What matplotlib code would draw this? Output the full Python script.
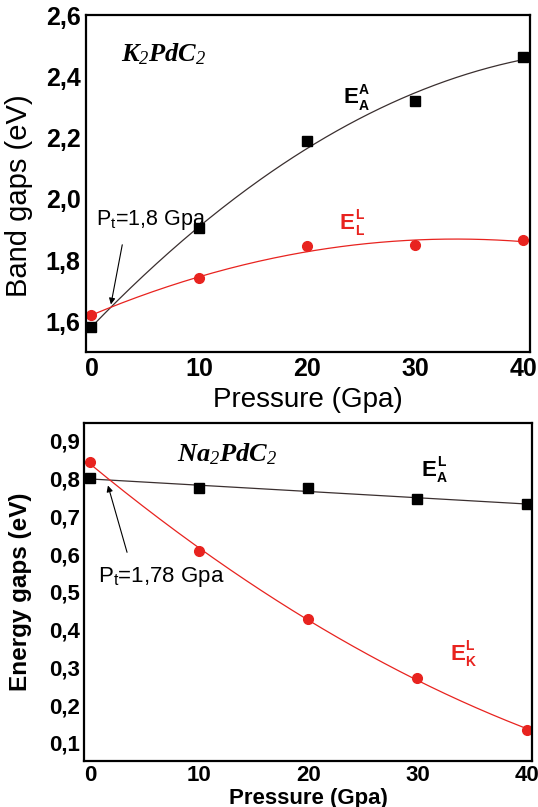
import matplotlib
matplotlib.use("Agg")
import matplotlib.pyplot as plt
import numpy as np

plt.rcParams["font.family"] = ["Liberation Sans", "DejaVu Sans"]
plt.rcParams["mathtext.fontset"] = "custom"
plt.rcParams["mathtext.it"] = "Liberation Serif:italic:bold"
plt.rcParams["mathtext.rm"] = "Liberation Serif:italic"
plt.rcParams["mathtext.sf"] = "Liberation Sans"

# pressure points (Gpa)
pressure = [0, 10, 20, 30, 40]

# K2PdC2 band gaps (eV)
k_gap_AA = [1.58, 1.905, 2.19, 2.32, 2.465]
k_gap_LL = [1.62, 1.74, 1.845, 1.848, 1.866]

# Na2PdC2 energy gaps (eV)
na_gap_AL = [0.802, 0.775, 0.775, 0.745, 0.734]
na_gap_KL = [0.843, 0.609, 0.427, 0.271, 0.135]

top_yticks = [1.6, 1.8, 2.0, 2.2, 2.4, 2.6]
bot_yticks = [0.1, 0.2, 0.3, 0.4, 0.5, 0.6, 0.7, 0.8, 0.9]
xticks = [0, 10, 20, 30, 40]

RED = "#e8231f"
DARK = "#3a2f2f"


def comma(v, nd=1):
    return f"{v:.{nd}f}".replace(".", ",")


def e_label(ax, x, y, sup, sub, color):
    # bold E with stacked super/subscript
    ax.text(x, y, "E", fontsize=16, fontweight="bold", color=color, va="center")
    ax.annotate(sup, xy=(x, y), xytext=(11, 1), textcoords="offset points",
                fontsize=10, fontweight="bold", color=color, va="bottom")
    ax.annotate(sub, xy=(x, y), xytext=(11, -0.5), textcoords="offset points",
                fontsize=10, fontweight="bold", color=color, va="top")


fig = plt.figure(figsize=(5.38, 8.07), dpi=100)
ax1 = fig.add_axes([0.160, 0.564, 0.825, 0.417])
ax2 = fig.add_axes([0.156, 0.057, 0.833, 0.419])

xs = np.linspace(0, 40, 200)

# ---------- top panel: K2PdC2 ----------
fit_b = np.polyfit(pressure, k_gap_AA, 2)
fit_r = np.polyfit(pressure, k_gap_LL, 2)
ax1.plot(xs, np.polyval(fit_b, xs), color=DARK, lw=0.9)
ax1.plot(xs, np.polyval(fit_r, xs), color=RED, lw=0.9)
ax1.plot(pressure, k_gap_AA, "s", color="black", ms=6.5)
ax1.plot(pressure, k_gap_LL, "o", color=RED, ms=7)

ax1.set_xlim(-0.5, 40.6)
ax1.set_ylim(1.5, 2.6)
ax1.set_xticks(xticks)
ax1.set_yticks(top_yticks)
ax1.set_xticklabels([str(t) for t in xticks], fontsize=18, fontweight="bold")
ax1.set_yticklabels([comma(t) for t in top_yticks], fontsize=18, fontweight="bold")
ax1.tick_params(length=0, pad=4)
ax1.set_xlabel("Pressure (Gpa)", fontsize=20, labelpad=4)
ax1.set_ylabel("Band gaps (eV)", fontsize=21)
ax1.yaxis.set_label_coords(-0.12, 0.463)

ax1.text(2.7, 2.45, r"$K_2PdC_2$", fontsize=19)
e_label(ax1, 23.3, 2.33, "A", "A", "black")
e_label(ax1, 23.0, 1.92, "L", "L", RED)
ax1.text(0.4, 1.915, r"$\mathsf{P}_\mathsf{t}$=1,8 Gpa", fontsize=15.5, va="baseline")
ax1.annotate("", xy=(1.8, 1.655), xytext=(2.85, 1.85),
             arrowprops=dict(arrowstyle="-|>", color="black", lw=0.8,
                             mutation_scale=9, shrinkA=0, shrinkB=0))

# ---------- bottom panel: Na2PdC2 ----------
fit_b2 = np.polyfit(pressure, na_gap_AL, 1)
fit_r2 = np.polyfit(pressure, na_gap_KL, 2)
ax2.plot(xs, np.polyval(fit_b2, xs), color=DARK, lw=0.9)
ax2.plot(xs, np.polyval(fit_r2, xs), color=RED, lw=0.9)
ax2.plot(pressure, na_gap_AL, "s", color="black", ms=6.5)
ax2.plot(pressure, na_gap_KL, "o", color=RED, ms=7)

ax2.set_xlim(-0.55, 40.5)
ax2.set_ylim(0.052, 0.948)
ax2.set_xticks(xticks)
ax2.set_yticks(bot_yticks)
ax2.set_xticklabels([str(t) for t in xticks], fontsize=16, fontweight="bold")
ax2.set_yticklabels([comma(t) for t in bot_yticks], fontsize=16, fontweight="bold")
ax2.tick_params(length=0, pad=3)
ax2.set_xlabel("Pressure (Gpa)", fontsize=16, fontweight="bold", labelpad=1)
ax2.set_ylabel("Energy gaps (eV)", fontsize=17.5, fontweight="bold")
ax2.yaxis.set_label_coords(-0.115, 0.5)

ax2.text(8.0, 0.864, r"$Na_2PdC_2$", fontsize=19, va="center")
e_label(ax2, 30.4, 0.823, "L", "A", "black")
e_label(ax2, 33.0, 0.335, "L", "K", RED)
ax2.text(0.7, 0.527, r"$\mathsf{P}_\mathsf{t}$=1,78 Gpa", fontsize=16, va="baseline")
ax2.annotate("", xy=(1.65, 0.782), xytext=(3.4, 0.605),
             arrowprops=dict(arrowstyle="-|>", color="black", lw=0.8,
                             mutation_scale=9, shrinkA=0, shrinkB=0))

for ax in (ax1, ax2):
    for sp in ax.spines.values():
        sp.set_linewidth(1.6)

fig.savefig("out.png", dpi=100)
